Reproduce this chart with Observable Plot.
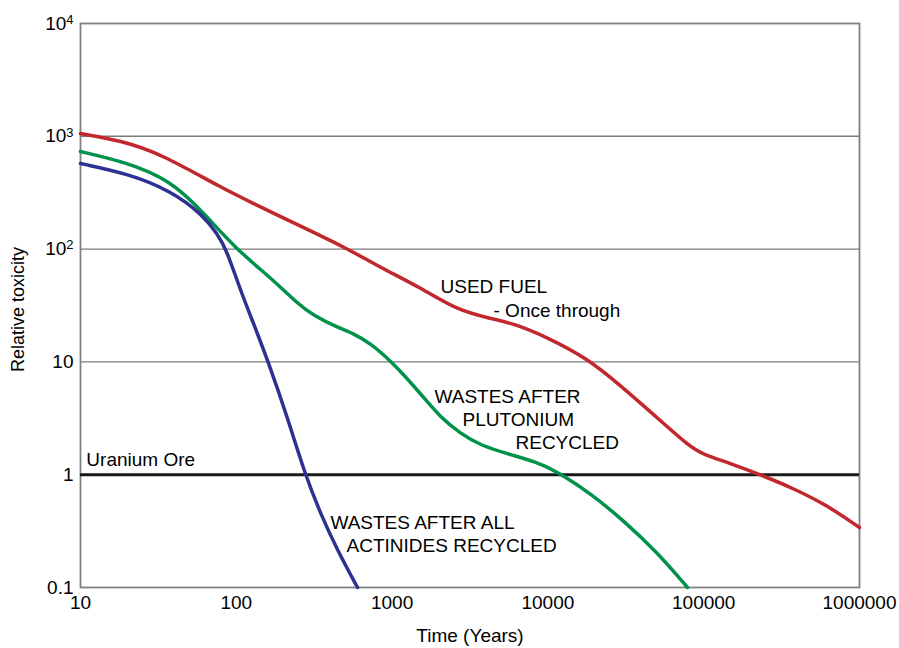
<!DOCTYPE html>
<html><head><meta charset="utf-8">
<script src="https://cdn.jsdelivr.net/npm/d3@7"></script>
<script src="https://cdn.jsdelivr.net/npm/@observablehq/plot@0.6"></script>
<style>body{margin:0;background:#fff;}</style>
</head><body><div id="chart"></div>
<script>
// Used fuel - once through
const usedFuelYears = [10, 18.1, 32.6, 79.2, 149.5, 258, 517, 842, 1522, 2630, 4280, 6015, 9940, 17960, 29240, 47620, 82300, 99700, 148600, 231500, 377000, 623000, 1000000];
const usedFuelTox   = [1059, 918, 704, 352, 229, 160, 101, 68.7, 45.6, 28.6, 24.3, 21.9, 16.5, 10.7, 6.18, 3.42, 1.74, 1.51, 1.26, 1.00, 0.755, 0.533, 0.340];
// Wastes after plutonium recycled
const puYears = [10, 20, 37.8, 61.6, 98.8, 165.8, 247, 313, 446, 565, 727, 977, 1522, 2045, 2750, 3690, 6015, 8970, 12040, 18770, 30570, 50500, 78700];
const puTox   = [733, 586, 406, 211, 101, 56, 32.9, 25.8, 20.2, 17.9, 14.6, 10.3, 5.25, 3.21, 2.32, 1.81, 1.48, 1.26, 1.02, 0.681, 0.393, 0.204, 0.1];
// Wastes after all actinides recycled
const actYears = [10, 20, 37.8, 61.6, 75.7, 86, 106.4, 129, 161, 213, 278, 347, 446, 600];
const actTox   = [574, 468, 331, 199, 135, 101, 43.0, 21.9, 9.88, 3.21, 0.98, 0.453, 0.213, 0.1];

const uraniumOre = 1;
const gridValues = [10, 100, 1000];

const yTicks = [0.1, 1, 10, 100, 1000, 10000];
const yTickLabels = ["0.1", "1", "10", "10^2", "10^3", "10^4"];
const xTicks = [10, 100, 1000, 10000, 100000, 1000000];
const xTickLabels = ["10", "100", "1000", "10000", "100000", "1000000"];

const annLabels = ["USED FUEL", "- Once through", "WASTES AFTER", "PLUTONIUM", "RECYCLED", "WASTES AFTER ALL", "ACTINIDES RECYCLED", "Uranium Ore"];
const annYears  = [2045, 4475, 1871, 2830, 6195, 402, 510, 10.9];
const annTox    = [46.6, 28.6, 4.93, 3.09, 1.93, 0.377, 0.236, 1.36];

const seriesNames = ["used", "pu", "act"];
const seriesColors = ["#c1272d", "#00924a", "#2e3192"];

const rows = [];
[[usedFuelYears, usedFuelTox], [puYears, puTox], [actYears, actTox]].forEach(([ys, ts], k) => {
  ys.forEach((y, i) => rows.push({series: seriesNames[k], t: y, v: ts[i]}));
});
const ann = annLabels.map((l, i) => ({label: l, t: annYears[i], v: annTox[i]}));

const chart = Plot.plot({
  width: 899, height: 648,
  marginLeft: 80, marginRight: 40, marginTop: 23, marginBottom: 61,
  style: {fontFamily: "'Liberation Sans', Arial, sans-serif", fontSize: "19px", color: "#000", background: "#fff", overflow: "visible"},
  x: {type: "log", domain: [10, 1e6]},
  y: {type: "log", domain: [0.1, 1e4]},
  color: {domain: seriesNames, range: seriesColors},
  marks: [
    Plot.ruleY(gridValues, {stroke: "#7a7a7a", strokeWidth: 1.4}),
    Plot.frame({stroke: "#808080", strokeWidth: 1.8}),
    Plot.ruleY([uraniumOre], {stroke: "#1a1a1a", strokeWidth: 3}),
    Plot.line(rows, {x: "t", y: "v", z: "series", stroke: "series", strokeWidth: 3.5, curve: "basis"}),
    Plot.axisY({ticks: yTicks, tickFormat: d => yTickLabels[yTicks.indexOf(d)], tickSize: 0, tickPadding: 7, label: null, fontSize: 19}),
    Plot.axisX({ticks: xTicks, tickFormat: d => xTickLabels[xTicks.indexOf(d)], tickSize: 0, tickPadding: 8, label: null, fontSize: 19}),
    Plot.text(ann, {x: "t", y: "v", text: "label", textAnchor: "start", fontSize: 19, fill: "#000"}),
    Plot.text(["Time (Years)"], {frameAnchor: "bottom", textAnchor: "middle", lineAnchor: "middle", dy: 48, fontSize: 19}),
    Plot.text(["Relative toxicity"], {frameAnchor: "left", textAnchor: "middle", lineAnchor: "middle", rotate: -90, dx: -62, dy: 4, fontSize: 18})
  ]
});

d3.select(chart).selectAll("text").each(function() {
  const m = this.textContent.match(/^10\^(\d)$/);
  if (m) {
    this.textContent = "10";
    d3.select(this).append("tspan").attr("dy", "-0.45em").attr("font-size", "0.68em").text(m[1]);
  }
});

document.getElementById("chart").appendChild(chart);
</script>
</body></html>
